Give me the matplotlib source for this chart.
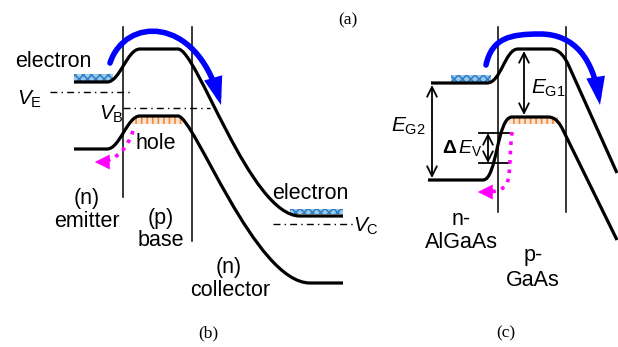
import matplotlib
matplotlib.use('Agg')
import matplotlib.pyplot as plt
from matplotlib.path import Path
from matplotlib.patches import PathPatch, Rectangle, FancyArrowPatch

plt.rcParams['font.family'] = 'Liberation Sans'
plt.rcParams['mathtext.fontset'] = 'custom'
plt.rcParams['mathtext.rm'] = 'Liberation Sans'
plt.rcParams['mathtext.it'] = 'Liberation Sans:italic'
plt.rcParams['mathtext.bf'] = 'Liberation Sans:bold'
plt.rcParams['hatch.linewidth'] = 1.2

M, L, C = Path.MOVETO, Path.LINETO, Path.CURVE4

# band edges (pixel coords of the sketch), panel (b)
cb_b = [(74, 82), (107, 82), (120, 82), (127, 49), (140, 49), (178, 49),
        (197, 49), (250, 216), (300, 216), (343, 216)]
cb_b_codes = [M, L, C, C, C, L, C, C, C, L]
vb_b = [(74, 149), (107, 149), (120, 149), (127, 116), (140, 116), (178, 116),
        (194, 116), (255, 283), (310, 283), (343, 283)]
vb_b_codes = [M, L, C, C, C, L, C, C, C, L]

# panel (c)
cb_c = [(431, 83), (487, 83), (501, 83), (505, 49), (518, 49), (550, 49),
        (560, 49), (565, 58), (568, 64), (617, 173)]
cb_c_codes = [M, L, C, C, C, L, C, C, C, L]
vb_c = [(428, 180), (483, 180), (497, 180), (497, 117), (512, 117), (548, 117),
        (556, 117), (560, 124), (563, 130), (617, 240)]
vb_c_codes = [M, L, C, C, C, L, C, C, C, L]

# junction lines: x, y_top, y_bottom
junctions = [(123, 27, 197), (192, 27, 241), (498, 27, 212), (566, 27, 212)]

# carrier boxes: x0, x1, y0, y1
electron_boxes = [(74, 113, 74, 81), (290, 343, 209, 214), (451, 491, 75, 82)]
hole_boxes = [(132, 183, 117, 124), (509, 558, 117, 124)]

# quasi-Fermi levels: x0, x1, y
fermi_lines = [(50, 133, 92), (123, 210, 108), (273, 353, 224)]

# carrier flow arrows
blue_b = [(110, 63), (125, 17), (195, 15), (221, 105)]
blue_c = [(486, 65), (492, 38), (510, 34), (540, 34),
          (575, 34), (593, 60), (600, 105)]
pink_b = [(133, 131), (127, 148), (118, 160), (100, 162)]
pink_c = [(512, 132), (510, 150), (510, 165), (509, 176),
          (507, 190), (498, 192), (483, 192)]

labels = [
    ('electron', 53, 61), ('hole', 156, 143),
    ('(n)', 87, 198), ('emitter', 87, 221),
    ('(p)', 161, 218), ('base', 161, 240),
    ('(n)', 229, 267), ('collector', 230, 291),
    ('electron', 310, 193),
    ('n-', 461, 219), ('AlGaAs', 461, 242),
    ('p-', 533, 256), ('GaAs', 533, 280),
]
panel_tags = [('(a)', 348, 20), ('(b)', 208, 333), ('(c)', 506, 333)]

fig = plt.figure(figsize=(6.18, 3.47), dpi=100)
ax = fig.add_axes([0, 0, 1, 1])
ax.set_xlim(0, 618)
ax.set_ylim(347, 0)
ax.axis('off')

for x0, x1, y0, y1 in electron_boxes:
    ax.add_patch(Rectangle((x0, y0), x1 - x0, y1 - y0, facecolor='#9cc8ea',
                           edgecolor='#2f80c8', hatch='xxxx', lw=0, zorder=2))
for x0, x1, y0, y1 in hole_boxes:
    ax.add_patch(Rectangle((x0, y0), x1 - x0, y1 - y0, facecolor='#fbe3cf',
                           edgecolor='#ef8a3a', hatch='|||', lw=0, zorder=2))

for pts, codes in [(cb_b, cb_b_codes), (vb_b, vb_b_codes),
                   (cb_c, cb_c_codes), (vb_c, vb_c_codes)]:
    ax.add_patch(PathPatch(Path(pts, codes), fill=False, lw=2.3,
                           color='black', capstyle='butt', zorder=3))

for x, y0, y1 in junctions:
    ax.plot([x, x], [y0, y1], color='black', lw=1.1, zorder=1)

for x0, x1, y in fermi_lines:
    ax.plot([x0, x1], [y, y], color='black', lw=1.0,
            linestyle=(0, (5, 3, 1, 3)), zorder=1)

# thick blue electron-flow arrows
for pts in [blue_b, blue_c]:
    codes = [M] + [C] * (len(pts) - 1)
    ax.add_patch(FancyArrowPatch(path=Path(pts, codes), color='#0000ff',
                                 lw=4, arrowstyle='-|>,head_length=0.6,head_width=0.2',
                                 mutation_scale=20, joinstyle='miter', zorder=4))

# dotted magenta hole-back-injection arrows
for pts in [pink_b, pink_c]:
    codes = [M] + [C] * (len(pts) - 1)
    ax.add_patch(PathPatch(Path(pts, codes), fill=False, lw=2.6,
                           color='#ff00ff', linestyle=(0, (1, 1.6)), zorder=4))
    end = pts[-1]
    ax.annotate('', xy=(end[0] - 8, end[1]), xytext=(end[0] + 2, end[1]),
                arrowprops=dict(arrowstyle='-|>,head_length=0.6,head_width=0.3',
                                color='#ff00ff', lw=0, mutation_scale=18), zorder=4)

# energy gap markers in panel (c)
gap_arrows = [(524, 51, 115), (432, 85, 178), (488, 133, 163)]
for x, y0, y1 in gap_arrows:
    ax.annotate('', xy=(x, y0), xytext=(x, y1),
                arrowprops=dict(arrowstyle='<->,head_length=0.5,head_width=0.25',
                                color='black', lw=1.3, shrinkA=0, shrinkB=0,
                                mutation_scale=14))
for y in [133, 163]:
    ax.plot([479, 509], [y, y], color='black', lw=1.3)

for txt, x, y in labels:
    ax.text(x, y, txt, fontsize=15.5, ha='center', va='center')

ax.text(17, 99, r'$\mathit{V}_\mathrm{E}$', fontsize=15, ha='left', va='center')
ax.text(99, 114, r'$\mathit{V}_\mathrm{B}$', fontsize=15, ha='left', va='center')
ax.text(353, 226, r'$\mathit{V}_\mathrm{C}$', fontsize=15, ha='left', va='center')
ax.text(531, 88, r'$\mathit{E}_\mathrm{G1}$', fontsize=15, ha='left', va='center')
ax.text(391, 126, r'$\mathit{E}_\mathrm{G2}$', fontsize=15, ha='left', va='center')
ax.text(442, 148, r'$\mathbf{\Delta}\,\mathit{E}_\mathrm{V}$', fontsize=14, ha='left', va='center')

for txt, x, y in panel_tags:
    ax.text(x, y, txt, fontsize=12.5, family='Liberation Serif', ha='center', va='center')

fig.savefig('out.png', dpi=100)
